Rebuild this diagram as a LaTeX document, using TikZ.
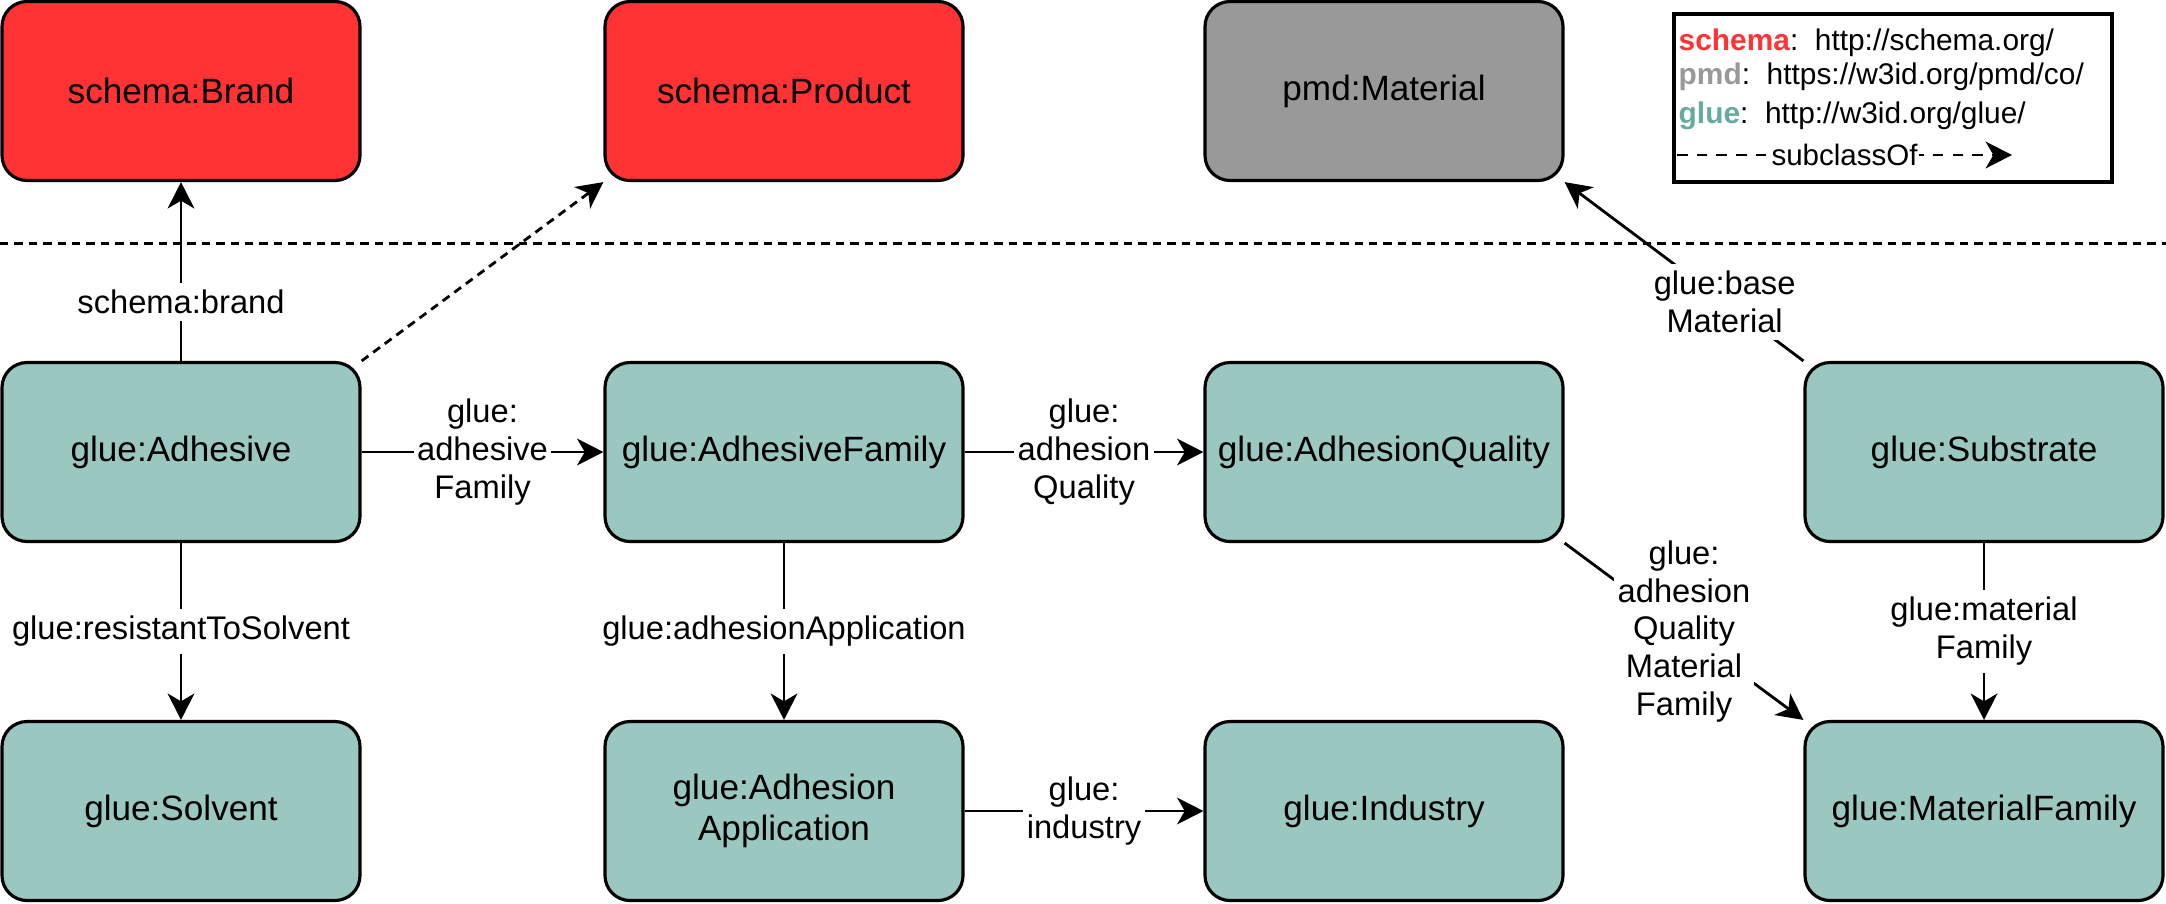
\documentclass[tikz,border=0pt]{standalone}
\usepackage{fontspec}
\setmainfont{Liberation Sans}
\usetikzlibrary{arrows.meta}
\definecolor{schemared}{HTML}{FF3333}
\definecolor{pmdgrey}{HTML}{999999}
\definecolor{gluefill}{HTML}{9AC7BF}
\definecolor{gluetext}{HTML}{67AB9F}
\begin{document}
\begin{tikzpicture}[
  >={Stealth[length=7.5pt,width=7.6pt,inset=2.2pt]},
  cls/.style={draw, line width=.9pt, rounded corners=.25cm, minimum width=3.58cm, minimum height=1.79cm, align=center, font=\fontsize{10}{11.5}\selectfont},
  schemacls/.style={cls, fill=schemared},
  pmdcls/.style={cls, fill=pmdgrey},
  gluecls/.style={cls, fill=gluefill},
  rel/.style={line width=.8pt},
  subcls/.style={rel, dash pattern=on 2.4pt off 1.7pt},
  lbl/.style={fill=white, inner xsep=1pt, inner ysep=2pt, align=center, font=\fontsize{9.3}{10.8}\selectfont},
  legtext/.style={anchor=west, inner sep=0pt, font=\fontsize{8.5}{10}\selectfont}
]
 \useasboundingbox (0,0) rectangle (21.66,-9.03);

 % imported classes
 \node (Brand) [schemacls] at (1.81,-.91) {schema:Brand};
 \node (Product) [schemacls] at (7.84,-.91) {schema:Product};
 \node (Material) [pmdcls] at (13.84,-.91) {pmd:Material};

 \coordinate (SepL) at (0,-2.43);
 \coordinate (SepR) at (21.66,-2.43);
 \path (SepL) edge [subcls, line width=.85pt] (SepR);

 % glue classes
 \node (Adh) [gluecls] at (1.81,-4.52) {glue:Adhesive};
 \node (Fam) [gluecls] at (7.84,-4.52) {glue:AdhesiveFamily};
 \node (Qual) [gluecls] at (13.84,-4.52) {glue:AdhesionQuality};
 \node (Sub) [gluecls] at (19.84,-4.52) {glue:Substrate};
 \node (Solv) [gluecls] at (1.81,-8.11) {glue:Solvent};
 \node (App) [gluecls] at (7.84,-8.11) {glue:Adhesion\\Application};
 \node (Ind) [gluecls] at (13.84,-8.11) {glue:Industry};
 \node (MFam) [gluecls] at (19.84,-8.11) {glue:MaterialFamily};

 \path (Adh) edge [rel,->] node[lbl,pos=.33] {schema:brand} (Brand);
 \path (Adh.north east) edge [subcls,->] (Product.south west);
 \path (Adh) edge [rel,->] node[lbl] {glue:\\adhesive\\Family} (Fam);
 \path (Fam) edge [rel,->] node[lbl] {glue:\\adhesion\\Quality} (Qual);
 \path (Adh) edge [rel,->] node[lbl] {glue:resistantToSolvent} (Solv);
 \path (Fam) edge [rel,->] node[lbl] {glue:adhesionApplication} (App);
 \path (App) edge [rel,->] node[lbl] {glue:\\industry} (Ind);
 \path (Qual.south east) edge [rel,->] node[lbl] {glue:\\adhesion\\Quality\\Material\\Family} (MFam.north west);
 \path (Sub) edge [rel,->] node[lbl] {glue:material\\Family} (MFam);
 \path (Sub.north west) edge [rel,->] node[lbl,pos=.33] {glue:base\\Material} (Material.south east);

 % legend
 \node (Legend) [draw, line width=.9pt, minimum width=4.38cm, minimum height=1.68cm] at (18.93,-.98) {};
 \node (LegSchema) [legtext] at (16.78,-.43) {\textbf{\textcolor{schemared}{schema}}:\ \ http://schema.org/};
 \node (LegPmd) [legtext] at (16.78,-.77) {\textbf{\textcolor{pmdgrey}{pmd}}:\ \ https://w3id.org/pmd/co/};
 \node (LegGlue) [legtext] at (16.78,-1.16) {\textbf{\textcolor{gluetext}{glue}}:\ \ http://w3id.org/glue/};
 \coordinate (LegA) at (16.77,-1.55);
 \coordinate (LegB) at (20.12,-1.55);
 \path (LegA) edge [rel, dash pattern=on 3pt off 2.6pt, ->] node[fill=white, inner sep=.3pt, font=\fontsize{8.4}{9.5}\selectfont] {subclassOf} (LegB);
\end{tikzpicture}
\end{document}
